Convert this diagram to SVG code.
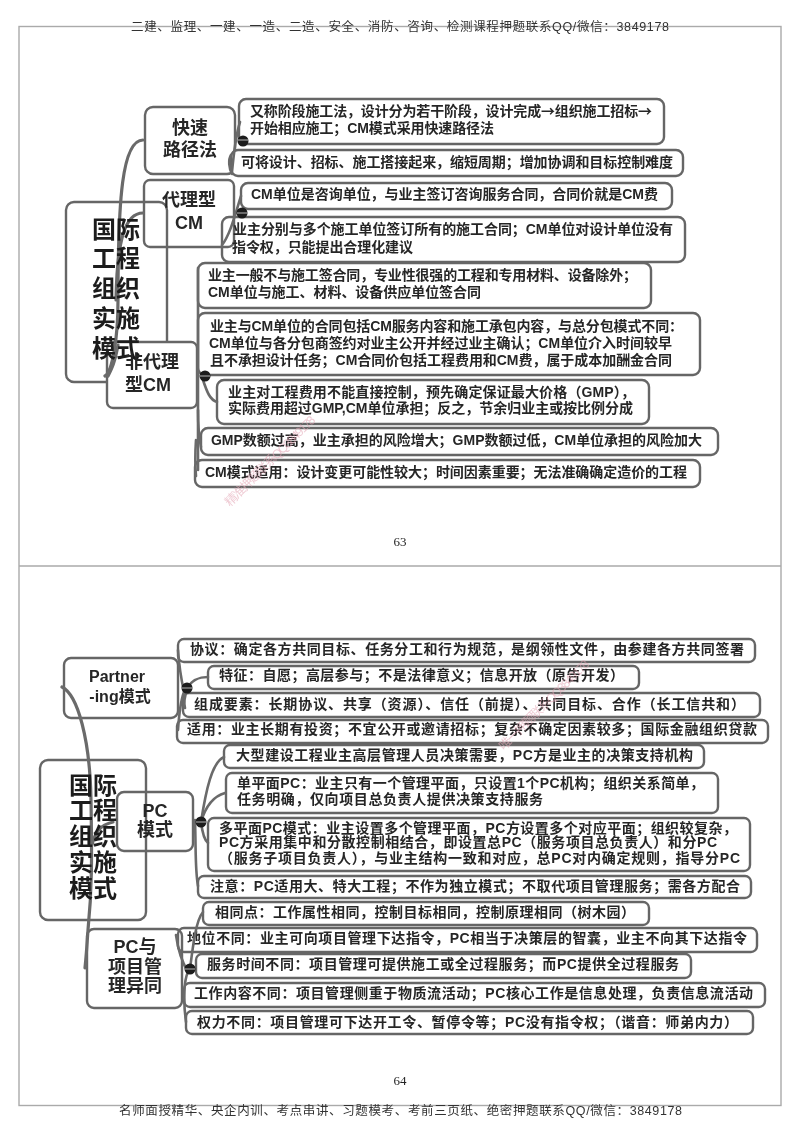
<svg xmlns="http://www.w3.org/2000/svg" width="800" height="1132" viewBox="0 0 800 1132">
<defs><filter id="soft" x="0" y="0" width="100%" height="100%" filterUnits="userSpaceOnUse" primitiveUnits="userSpaceOnUse"><feGaussianBlur stdDeviation="0.35"/></filter></defs>
<style>
text{font-family:"Liberation Sans","Noto Sans CJK SC",sans-serif;fill:#262626;font-weight:700}
.b{fill:#fff;stroke:#666;stroke-width:2.4}
.t{font-size:14px}
.m{font-size:18px;text-anchor:middle}
.r{font-size:24px;text-anchor:middle;fill:#1c1c1c}
.c{fill:none;stroke:#6a6a6a;stroke-width:2.6;stroke-linecap:round}
.rc{stroke-width:3.2}
.hd{font-size:12.500px;font-weight:400;fill:#333}
.pg{font-family:"Liberation Serif",serif;font-size:13px;font-weight:400;text-anchor:middle;fill:#222}
.wm{font-size:12.500px;font-weight:400;fill:#e5a9b8;fill-opacity:.6}
.f{fill:none;stroke:#aaa;stroke-width:1.4}
.d{fill:#1a1a1a}
.dl{stroke:#bbb;stroke-width:1}
.ar{font-family:"Noto Sans CJK SC",sans-serif}
</style>
<rect width="800" height="1132" fill="#fff"/>
<g filter="url(#soft)" width="800" height="1132">
<g id="frame">
<rect class="f" x="19" y="26.500" width="762" height="1079"/>
<line class="f" x1="19" y1="566" x2="781" y2="566"/>
</g>
<text class="hd" x="131" y="31" textLength="538">二建、监理、一建、一造、二造、安全、消防、咨询、检测课程押题联系QQ/微信：3849178</text>
<text class="hd" x="119" y="1115" textLength="563">名师面授精华、央企内训、考点串讲、习题模考、考前三页纸、绝密押题联系QQ/微信：3849178</text>
<text class="pg" x="400" y="546">63</text>
<text class="pg" x="400" y="1085">64</text>

<g id="n-root1"><rect class="b" x="66" y="202" width="101" height="180" rx="8"/></g>
<g id="n-kuaisu"><rect class="b" x="145" y="107" width="90" height="67" rx="8"/></g>
<g id="n-daili"><rect class="b" style="fill:none" x="144" y="180" width="90" height="67" rx="6"/></g>
<g id="n-feidaili"><rect class="b" x="107" y="342" width="90" height="66" rx="6"/></g>

<g id="n1"><rect class="b" x="239" y="99" width="425" height="45" rx="7"/><text class="t" x="250" y="116" textLength="402">又称阶段施工法，设计分为若干阶段，设计完成<tspan class="ar">→</tspan>组织施工招标<tspan class="ar">→</tspan></text><text class="t" x="250" y="133" textLength="244">开始相应施工；CM模式采用快速路径法</text></g>
<g id="n2"><rect class="b" x="231" y="150" width="452" height="26" rx="7"/><text class="t" x="241" y="167" textLength="432">可将设计、招标、施工搭接起来，缩短周期；增加协调和目标控制难度</text></g>
<g id="n3"><rect class="b" x="241" y="183" width="431" height="26" rx="7"/><text class="t" x="251" y="199" textLength="407">CM单位是咨询单位，与业主签订咨询服务合同，合同价就是CM费</text></g>
<g id="n4"><rect class="b" style="fill:none" x="222" y="217" width="463" height="45" rx="7"/><text class="t" x="233" y="234" textLength="440">业主分别与多个施工单位签订所有的施工合同；CM单位对设计单位没有</text><text class="t" x="232" y="252" textLength="181">指令权，只能提出合理化建议</text></g>
<g id="n5"><rect class="b" x="198" y="263" width="453" height="45" rx="7"/><text class="t" x="208" y="280" textLength="429">业主一般不与施工签合同，专业性很强的工程和专用材料、设备除外；</text><text class="t" x="208" y="297" textLength="273">CM单位与施工、材料、设备供应单位签合同</text></g>
<g id="n6"><rect class="b" x="198" y="313" width="502" height="62" rx="7"/><text class="t" x="210" y="331" textLength="473">业主与CM单位的合同包括CM服务内容和施工承包内容，与总分包模式不同：</text><text class="t" x="209" y="348" textLength="463">CM单位与各分包商签约对业主公开并经过业主确认；CM单位介入时间较早</text><text class="t" x="210" y="365" textLength="462">且不承担设计任务；CM合同价包括工程费用和CM费，属于成本加酬金合同</text></g>
<g id="n7"><rect class="b" x="217" y="380" width="432" height="44" rx="7"/><text class="t" x="228" y="397" textLength="407">业主对工程费用不能直接控制，预先确定保证最大价格（GMP），</text><text class="t" x="228" y="413" textLength="405">实际费用超过GMP,CM单位承担；反之，节余归业主或按比例分成</text></g>
<g id="n8"><rect class="b" x="201" y="428" width="517" height="27" rx="7"/><text class="t" x="211" y="445" textLength="491">GMP数额过高，业主承担的风险增大；GMP数额过低，CM单位承担的风险加大</text></g>
<g id="n9"><rect class="b" x="195" y="460" width="505" height="27" rx="7"/><text class="t" x="205" y="477" textLength="482">CM模式适用：设计变更可能性较大；时间因素重要；无法准确确定造价的工程</text></g>

<g id="n-root2"><rect class="b" x="40" y="760" width="106" height="160" rx="8"/></g>
<g id="n-partner"><rect class="b" x="64" y="658" width="114" height="60" rx="7"/></g>
<g id="n-pc"><rect class="b" style="fill:none" x="117" y="792" width="76" height="59" rx="7"/></g>
<g id="n-pcdiff"><rect class="b" x="87" y="929" width="95" height="79" rx="7"/></g>

<g id="m1"><rect class="b" x="178" y="639" width="577" height="23" rx="6"/><text class="t" x="190" y="654" textLength="554">协议：确定各方共同目标、任务分工和行为规范，是纲领性文件，由参建各方共同签署</text></g>
<g id="m2"><rect class="b" x="208" y="666" width="431" height="23" rx="6"/><text class="t" x="219" y="680" textLength="405">特征：自愿；高层参与；不是法律意义；信息开放（原告开发）</text></g>
<g id="m3"><rect class="b" x="183" y="693" width="577" height="24" rx="6"/><text class="t" x="194" y="709" textLength="551">组成要素：长期协议、共享（资源）、信任（前提）、共同目标、合作（长工信共和）</text></g>
<g id="m4"><rect class="b" x="177" y="720" width="591" height="23" rx="6"/><text class="t" x="187" y="734" textLength="570">适用：业主长期有投资；不宜公开或邀请招标；复杂不确定因素较多；国际金融组织贷款</text></g>
<g id="m5"><rect class="b" x="224" y="745" width="480" height="23" rx="6"/><text class="t" x="236" y="760" textLength="457">大型建设工程业主高层管理人员决策需要，PC方是业主的决策支持机构</text></g>
<g id="m6"><rect class="b" x="226" y="773" width="492" height="40" rx="6"/><text class="t" x="237" y="788" textLength="467">单平面PC：业主只有一个管理平面，只设置1个PC机构；组织关系简单，</text><text class="t" x="237" y="804" textLength="306">任务明确，仅向项目总负责人提供决策支持服务</text></g>
<g id="m7"><rect class="b" x="208" y="818" width="542" height="53" rx="6"/><text class="t" x="219" y="833" textLength="518">多平面PC模式：业主设置多个管理平面，PC方设置多个对应平面；组织较复杂，</text><text class="t" x="219" y="847" textLength="498">PC方采用集中和分散控制相结合，即设置总PC（服务项目总负责人）和分PC</text><text class="t" x="219" y="863" textLength="521">（服务子项目负责人），与业主结构一致和对应，总PC对内确定规则，指导分PC</text></g>
<g id="m8"><rect class="b" x="198" y="876" width="553" height="22" rx="6"/><text class="t" x="210" y="891" textLength="530">注意：PC适用大、特大工程；不作为独立模式；不取代项目管理服务；需各方配合</text></g>
<g id="m9"><rect class="b" x="203" y="902" width="446" height="23" rx="6"/><text class="t" x="215" y="917" textLength="420">相同点：工作属性相同，控制目标相同，控制原理相同（树木园）</text></g>
<g id="m10"><rect class="b" style="fill:none" x="178" y="928" width="579" height="24" rx="6"/><text class="t" x="187" y="943" textLength="560">地位不同：业主可向项目管理下达指令，PC相当于决策层的智囊，业主不向其下达指令</text></g>
<g id="m11"><rect class="b" x="196" y="954" width="495" height="24" rx="6"/><text class="t" x="207" y="969" textLength="472">服务时间不同：项目管理可提供施工或全过程服务；而PC提供全过程服务</text></g>
<g id="m12"><rect class="b" x="184" y="983" width="581" height="24" rx="6"/><text class="t" x="194" y="998" textLength="559">工作内容不同：项目管理侧重于物质流活动；PC核心工作是信息处理，负责信息流活动</text></g>
<g id="m13"><rect class="b" x="186" y="1011" width="567" height="23" rx="6"/><text class="t" x="197" y="1027" textLength="541">权力不同：项目管理可下达开工令、暂停令等；PC没有指令权；（谐音：师弟内力）</text></g>

<g id="connectors">
<path class="c rc" d="M105 376C112 372 118 340 118 300C118 200 122 140 143 140"/>
<path class="c rc" d="M116 300C117 240 125 213 143 213"/>
<path class="c rc" d="M108 376C112 368 115 362 118 345"/>
<path class="c" d="M232 172C234 150 236 135 240 122"/>
<path class="c" d="M231 155C228 160 229 168 232 174"/>
<path class="c" d="M222 245C230 235 235 215 241 196"/>
<path class="c" d="M198 268V470"/>
<path class="c" d="M196 440C195 455 195 465 196 476"/>
<path class="c" d="M203 380C207 392 210 400 217 402"/>
<path class="c" d="M198 410C198 425 199 438 201 447"/>
<path class="c rc" d="M62 687C78 695 90 740 91 800C92 860 92 890 88 930C87 945 86 958 85 968"/>
<path class="c rc" d="M113 822C100 825 95 832 92 845"/>
<path class="c" d="M178 650C179 665 181 678 184 692C181 700 179 715 178 730"/>
<path class="c" d="M187 688C192 680 198 677 208 677"/>
<path class="c" d="M187 690C184 698 184 704 185 708"/>
<path class="c" d="M201 822C206 790 212 762 224 757"/>
<path class="c" d="M201 822C206 805 214 796 225 793"/>
<path class="c" d="M201 822C202 830 204 840 208 843"/>
<path class="c" d="M195 820C196 850 195 870 198 886"/>
<path class="c" d="M190 969C193 945 196 920 203 912"/>
<path class="c" d="M176 935C178 950 182 962 188 972C184 980 183 1000 186 1022"/>
</g>

<g id="dots">
<circle class="d" cx="243" cy="141" r="5.500"/><line class="dl" x1="238" y1="140" x2="248" y2="140"/>
<circle class="d" cx="242" cy="213" r="5.500"/><line class="dl" x1="237" y1="213" x2="247" y2="213"/>
<circle class="d" cx="205" cy="376" r="5.500"/><line class="dl" x1="200" y1="376" x2="210" y2="376"/>
<circle class="d" cx="187" cy="688" r="5.500"/><line class="dl" x1="182" y1="688" x2="192" y2="688"/>
<circle class="d" cx="201" cy="822" r="5.500"/><line class="dl" x1="196" y1="822" x2="206" y2="822"/>
<circle class="d" cx="190" cy="969" r="5.500"/><line class="dl" x1="185" y1="969" x2="195" y2="969"/>
</g>

<g id="labels">
<text class="r" x="116" y="238">国际</text><text class="r" x="116" y="267">工程</text><text class="r" x="116" y="297">组织</text><text class="r" x="116" y="327">实施</text><text class="r" x="116" y="357">模式</text>
<text class="m" x="190" y="134">快速</text><text class="m" x="190" y="156">路径法</text>
<text class="m" x="189" y="206">代理型</text><text class="m" x="189" y="229">CM</text>
<text class="m" x="152" y="368">非代理</text><text class="m" x="148" y="391">型CM</text>
<text class="r" x="93" y="794">国际</text><text class="r" x="93" y="819">工程</text><text class="r" x="93" y="845">组织</text><text class="r" x="93" y="871">实施</text><text class="r" x="93" y="897">模式</text>
<text class="m" style="font-size:16px" x="117" y="682">Partner</text><text class="m" style="font-size:16px" x="120" y="702">-ing模式</text>
<text class="m" x="155" y="817">PC</text><text class="m" x="155" y="836">模式</text>
<text class="m" x="135" y="953">PC与</text><text class="m" x="135" y="973">项目管</text><text class="m" x="135" y="992">理异同</text>
</g>

<g id="watermarks">
<text class="wm" transform="translate(230 507) rotate(-45)" textLength="122">精准押题联系QQ3849178</text>
<text class="wm" transform="translate(504 751) rotate(-45)" textLength="122">唯一押题联系QQ3849178</text>
</g>
</g>
</svg>
